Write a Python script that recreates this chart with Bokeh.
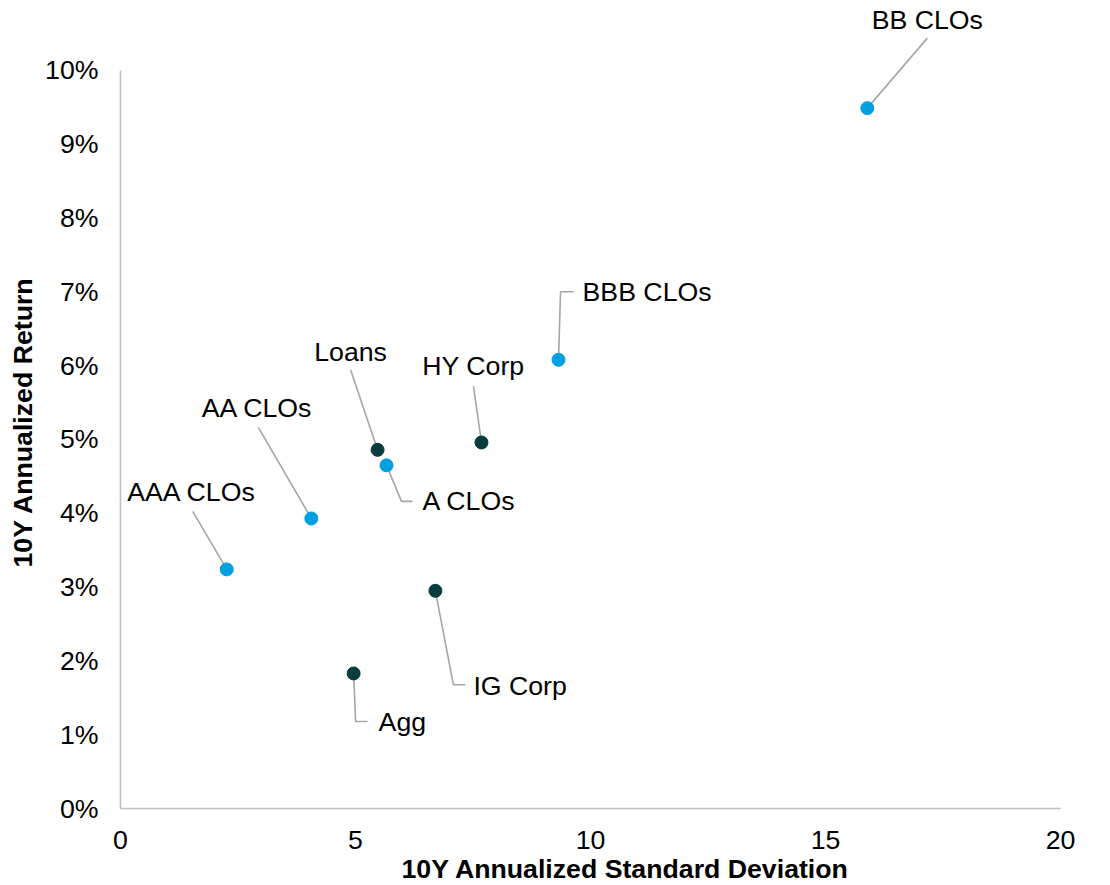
from bokeh.plotting import figure
from bokeh.models import Range1d, FixedTicker, PrintfTickFormatter, ColumnDataSource, Title
from bokeh.core.properties import value
from bokeh.embed import file_html
from bokeh.resources import INLINE

# ---- data ----
names = ["BB CLOs", "BBB CLOs", "Loans", "HY Corp", "A CLOs", "AA CLOs", "AAA CLOs", "IG Corp", "Agg"]
std_dev = [15.89, 9.32, 5.47, 7.68, 5.66, 4.06, 2.26, 6.70, 4.96]
ret_pct = [9.49, 6.08, 4.86, 4.96, 4.65, 3.93, 3.24, 2.95, 1.83]
is_clo = [True, True, False, False, True, True, True, False, False]
x_ticks = [0, 5, 10, 15, 20]
y_ticks = [0, 1, 2, 3, 4, 5, 6, 7, 8, 9, 10]

# ---- layout (screen pixel offsets from each point; +dy is downward) ----
elbow_dx = [60, 2, -27, -8, 15, -53, -34, 18, 2]
elbow_dy = [-70, -68, -80, -56, 36, -91, -58, 94, 48]
end_dx = [60, 15, -27, -8, 26, -53, -34, 30, 14]
end_dy = [-70, -68, -80, -56, 36, -91, -58, 94, 48]
lab_dx = [60, 24, -27, -8, 36, -54, -35, 38, 25]
lab_dy = [-88, -68, -98, -76, 36, -110, -77, 95, 49]
lab_align = ["center", "left", "center", "center", "left", "center", "center", "left", "left"]

FW, FH = 940, 800
X0, X1 = 0, 20
Y0, Y1 = 0, 10.84
px_x = FW / (X1 - X0)
px_y = FH / (Y1 - Y0)

BLUE = "#00A0E1"
DARK = "#083C3C"
FONT = "Liberation Sans"
FS = "26.7px"

p = figure(frame_width=FW, frame_height=FH, output_backend="svg", toolbar_location=None,
           x_range=Range1d(X0, X1), y_range=Range1d(Y0, Y1),
           min_border_left=114, min_border_right=40, min_border_top=8, min_border_bottom=60)
p.outline_line_color = None
p.grid.visible = False
p.background_fill_color = "white"

# leader lines
xs, ys = [], []
for i in range(len(names)):
    x, y = std_dev[i], ret_pct[i]
    xs.append([x, x + elbow_dx[i] / px_x, x + end_dx[i] / px_x])
    ys.append([y, y - elbow_dy[i] / px_y, y - end_dy[i] / px_y])
p.multi_line(xs=xs, ys=ys, line_color="#A6A6A6", line_width=1.6)

colors = [BLUE if c else DARK for c in is_clo]
src = ColumnDataSource(dict(x=std_dev, y=ret_pct, c=colors))
p.scatter("x", "y", source=src, size=13, fill_color="c", line_color="c")

lsrc = ColumnDataSource(dict(
    x=[std_dev[i] + lab_dx[i] / px_x for i in range(len(names))],
    y=[ret_pct[i] - lab_dy[i] / px_y for i in range(len(names))],
    t=names, a=lab_align))
p.text("x", "y", text="t", source=lsrc, text_align="a", text_baseline="middle",
       text_font=value(FONT), text_font_size=FS, text_color="#000000")

for ax in (p.xaxis[0], p.yaxis[0]):
    ax.axis_line_color = "#BFBFBF"
    ax.axis_line_width = 1.6
    ax.major_tick_line_color = None
    ax.minor_tick_line_color = None
    ax.major_label_text_font = FONT
    ax.major_label_text_font_size = FS
    ax.major_label_text_color = "#000000"

p.xaxis[0].ticker = FixedTicker(ticks=x_ticks)
p.xaxis[0].bounds = (0, 20)
p.xaxis[0].major_label_standoff = 16

p.yaxis[0].ticker = FixedTicker(ticks=y_ticks)
p.yaxis[0].bounds = (0, 10)
p.yaxis[0].formatter = PrintfTickFormatter(format="%d%%")
p.yaxis[0].major_label_standoff = 16

xt = Title(text="10Y Annualized Standard Deviation", align="left", offset=281,
           text_font=FONT, text_font_size=FS, text_font_style="bold", text_color="#000000",
           standoff=0)
yt = Title(text="10Y Annualized Return", align="left", offset=241,
           text_font=FONT, text_font_size=FS, text_font_style="bold", text_color="#000000",
           standoff=10)
p.add_layout(xt, "below")
p.add_layout(yt, "left")

open("out.html", "w").write(file_html(p, INLINE))
